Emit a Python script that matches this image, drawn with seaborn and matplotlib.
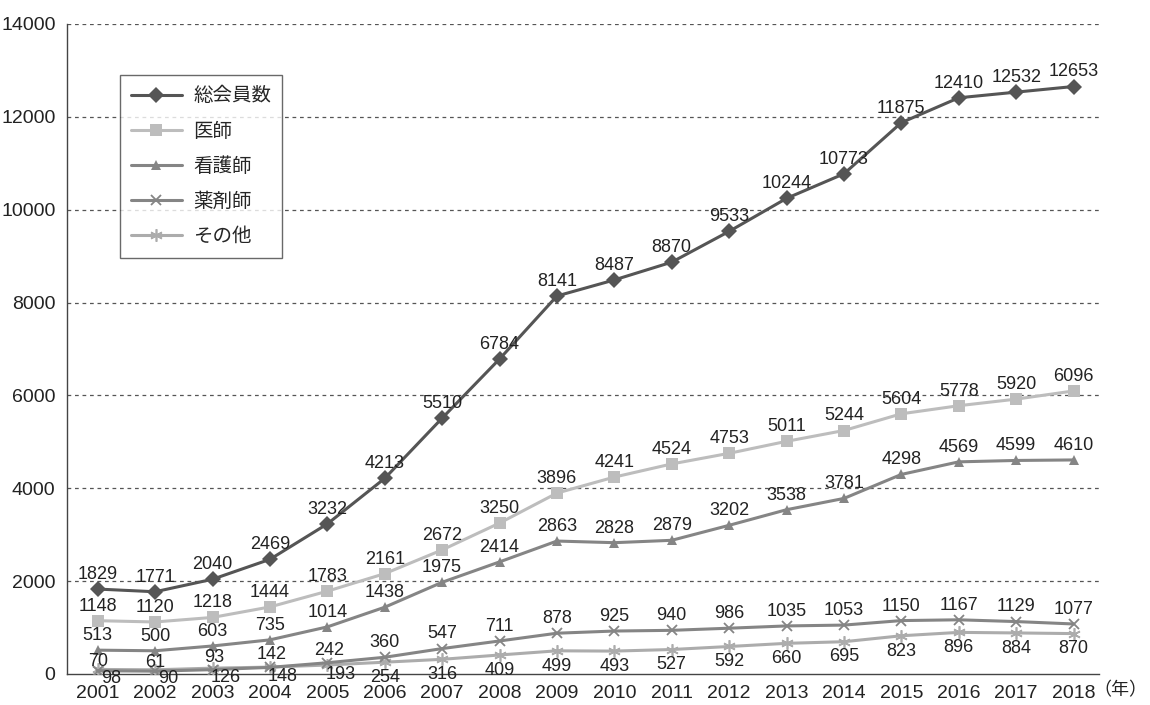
import matplotlib
matplotlib.use("Agg")
import matplotlib.pyplot as plt
import seaborn as sns
import pandas as pd
import numpy as np

years = [2001, 2002, 2003, 2004, 2005, 2006, 2007, 2008, 2009, 2010,
         2011, 2012, 2013, 2014, 2015, 2016, 2017, 2018]
total = [1829, 1771, 2040, 2469, 3232, 4213, 5510, 6784, 8141, 8487,
         8870, 9533, 10244, 10773, 11875, 12410, 12532, 12653]
doctors = [1148, 1120, 1218, 1444, 1783, 2161, 2672, 3250, 3896, 4241,
           4524, 4753, 5011, 5244, 5604, 5778, 5920, 6096]
nurses = [513, 500, 603, 735, 1014, 1438, 1975, 2414, 2863, 2828,
          2879, 3202, 3538, 3781, 4298, 4569, 4599, 4610]
pharmacists = [70, 61, 93, 142, 242, 360, 547, 711, 878, 925,
               940, 986, 1035, 1053, 1150, 1167, 1129, 1077]
others = [98, 90, 126, 148, 193, 254, 316, 409, 499, 493,
          527, 592, 660, 695, 823, 896, 884, 870]
series_names = ["総会員数", "医師", "看護師", "薬剤師", "その他"]
yticks = [0, 2000, 4000, 6000, 8000, 10000, 12000, 14000]

sns.set_theme(style="white")
plt.rcParams['font.family'] = ['Liberation Sans', 'Noto Sans CJK JP', 'DejaVu Sans']
lab_size = 13
tick_size = 14

data = [total, doctors, nurses, pharmacists, others]
colors = ["#555555", "#bdbdbd", "#858585", "#858585", "#acacac"]
markers = ["D", "s", "^", "x", (6, 2, 0)]
msizes = [8, 8.5, 7.5, 7.5, 9]
mew = [0, 0, 0, 1.3, 1.2]

fig = plt.figure(figsize=(11.5, 7.05), dpi=100)
ax = fig.add_axes([0.058, 0.044, 0.898, 0.922])

xs = np.arange(len(years))
for i, (name, vals) in enumerate(zip(series_names, data)):
    df = pd.DataFrame({"x": xs, "y": vals})
    sns.lineplot(data=df, x="x", y="y", ax=ax, color=colors[i], lw=2.2,
                 marker=markers[i], markersize=msizes[i],
                 markeredgewidth=mew[i], markeredgecolor=colors[i],
                 label=name, zorder=3 + (4 - i))

# value labels
for i, vals in enumerate(data):
    for j, v in enumerate(vals):
        if i == 4:
            if j < 5:
                off = (9.5, -6.5)
            else:
                off = (0, -11)
        elif i == 3 and j < 2:
            off = (0, 6.5)
        elif i == 3 and j < 5:
            off = (1, 9)
        else:
            off = (0, 10.5)
        ax.annotate(str(v), (j, v), xytext=off, textcoords="offset points",
                    ha="center", va="center", fontsize=lab_size, color="#222222", zorder=10)

ax.set_xlim(-0.54, 17.45)
ax.set_ylim(0, 14000)
ax.set_yticks(yticks)
ax.set_yticklabels([str(t) for t in yticks], fontsize=tick_size, color="#222222")
ax.set_xticks(xs)
ax.set_xticklabels([str(y) for y in years], fontsize=tick_size, color="#222222")
ax.tick_params(axis="x", length=0, pad=8)
ax.tick_params(axis="y", length=0, pad=8)
ax.set_xlabel("")
ax.set_ylabel("")
for yv in yticks[1:]:
    ax.axhline(yv, color="#555555", lw=0.9, ls=(0, (3, 3)), zorder=1)
for s in ["top", "right"]:
    ax.spines[s].set_visible(False)
for s in ["left", "bottom"]:
    ax.spines[s].set_color("#444444")
    ax.spines[s].set_linewidth(1.0)

fig.text(0.998, 0.021, "（年）", fontsize=13, ha="right", va="center",
         color="#222222", family=['Noto Sans CJK JP', 'DejaVu Sans'])

leg = ax.legend(loc="upper left", bbox_to_anchor=(0.052, 0.922), frameon=True,
                fancybox=False, edgecolor="#444444",
                handlelength=2.6, labelspacing=0.73, borderpad=0.55,
                borderaxespad=0, handletextpad=0.6,
                prop={'family': ['Noto Sans CJK JP', 'DejaVu Sans'], 'size': 14})
leg.get_frame().set_linewidth(1.0)
leg.set_zorder(20)

fig.savefig("out.png", dpi=100, facecolor="white")
